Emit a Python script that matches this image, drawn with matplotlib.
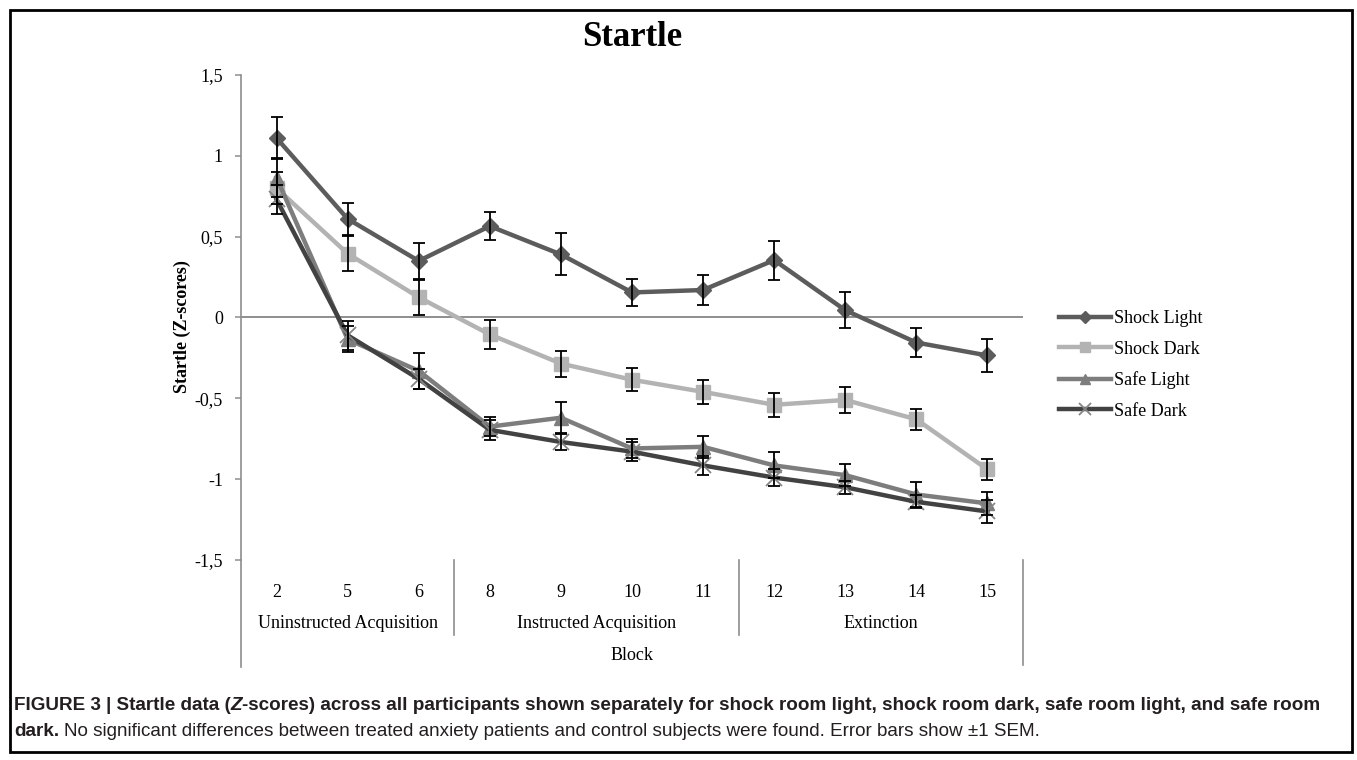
import matplotlib
matplotlib.use("Agg")
import matplotlib.pyplot as plt
from matplotlib.patches import Rectangle
import matplotlib.transforms as mtransforms

# ---------------- data ----------------
blocks = ["2", "5", "6", "8", "9", "10", "11", "12", "13", "14", "15"]
groups = ["Uninstructed Acquisition", "Instructed Acquisition", "Extinction"]
group_sizes = [3, 4, 4]
series_names = ["Shock Light", "Shock Dark", "Safe Light", "Safe Dark"]

shock_light = [1.11, 0.61, 0.35, 0.565, 0.39, 0.155, 0.17, 0.355, 0.045, -0.155, -0.235]
shock_light_sem = [0.13, 0.10, 0.11, 0.085, 0.13, 0.085, 0.095, 0.12, 0.11, 0.09, 0.10]
shock_dark = [0.80, 0.395, 0.125, -0.105, -0.285, -0.385, -0.46, -0.54, -0.51, -0.63, -0.94]
shock_dark_sem = [0.10, 0.11, 0.11, 0.09, 0.08, 0.07, 0.075, 0.073, 0.08, 0.065, 0.067]
safe_light = [0.865, -0.135, -0.33, -0.675, -0.62, -0.81, -0.80, -0.915, -0.975, -1.095, -1.15]
safe_light_sem = [0.12, 0.08, 0.11, 0.06, 0.095, 0.06, 0.07, 0.08, 0.07, 0.075, 0.07]
safe_dark = [0.73, -0.11, -0.38, -0.695, -0.77, -0.83, -0.915, -0.99, -1.05, -1.14, -1.20]
safe_dark_sem = [0.09, 0.09, 0.06, 0.06, 0.05, 0.06, 0.06, 0.05, 0.04, 0.04, 0.07]

yticks = [-1.5, -1.0, -0.5, 0.0, 0.5, 1.0, 1.5]
ytick_labels = ["-1,5", "-1", "-0,5", "0", "0,5", "1", "1,5"]

# ---------------- figure ----------------
W, H = 1357, 760
fig = plt.figure(figsize=(W / 100, H / 100), dpi=100)
serif = ["Liberation Serif", "DejaVu Serif"]
sans = ["Liberation Sans", "DejaVu Sans"]

def fx(px):
    return px / W

def fy(py):
    return 1 - py / H

ax_l, ax_r, ax_t, ax_b = 241, 1023, 75, 560
ax = fig.add_axes([fx(ax_l), fy(ax_b), (ax_r - ax_l) / W, (ax_b - ax_t) / H])
ax.set_xlim(-0.5, len(blocks) - 0.5)
ax.set_ylim(-1.5, 1.5)

axis_gray = "#8e8e8e"
for s in ["top", "right", "bottom"]:
    ax.spines[s].set_visible(False)
ax.spines["left"].set_color(axis_gray)
ax.spines["left"].set_linewidth(1.2)
ax.axhline(0, color=axis_gray, lw=1.4, zorder=1)

styles = [
    dict(color="#5c5c5c", marker="D", ms=8, mfc="#5c5c5c", mec="#5c5c5c"),
    dict(color="#b3b3b3", marker="s", ms=10, mfc="#b3b3b3", mec="#b3b3b3"),
    dict(color="#7d7d7d", marker="^", ms=10, mfc="#7d7d7d", mec="#7d7d7d"),
    dict(color="#424242", marker="x", ms=11, mfc="#858585", mec="#858585", mew=1.3),
]
values = [shock_light, shock_dark, safe_light, safe_dark]
sems = [shock_light_sem, shock_dark_sem, safe_light_sem, safe_dark_sem]
x = list(range(len(blocks)))
handles = []
for i, (name, v, e, st) in enumerate(zip(series_names, values, sems, styles)):
    h, = ax.plot(x, v, lw=3.2, label=name, zorder=3 + i, solid_joinstyle="round", **st)
    handles.append(h)
for i, (v, e) in enumerate(zip(values, sems)):
    ax.errorbar(x, v, yerr=e, fmt="none", ecolor="black", elinewidth=1.3,
                capsize=4.5, capthick=1.3, zorder=8 + i)

ax.set_yticks(yticks)
ax.set_yticklabels(ytick_labels, fontfamily=serif, fontsize=13)
ax.tick_params(axis="y", direction="out", length=4, width=1.1, color=axis_gray, pad=9)
ax.set_xticks(x)
ax.set_xticklabels(blocks, fontfamily=serif, fontsize=13)
ax.tick_params(axis="x", length=0, pad=17)

# category-axis frame lines below the plot
def ay(py):
    return (ax_b - py) / (ax_b - ax_t)

blend = mtransforms.blended_transform_factory(ax.transData, ax.transAxes)
ax.plot([0, 0], [0, ay(667)], transform=ax.transAxes, clip_on=False, color=axis_gray, lw=1.2)
ax.plot([1, 1], [0, ay(665)], transform=ax.transAxes, clip_on=False, color=axis_gray, lw=1.2)
start = 0
centers = []
for k, n in enumerate(group_sizes):
    centers.append(start + (n - 1) / 2)
    if k < len(group_sizes) - 1:
        sep = start + n - 0.5
        ax.plot([sep, sep], [0, ay(635)], transform=blend, clip_on=False, color=axis_gray, lw=1.2)
    start += n
for g, c in zip(groups, centers):
    ax.text(c, ay(623), g, transform=blend, ha="center", va="center",
            fontfamily=serif, fontsize=13)
ax.text(0.5, ay(655), "Block", transform=ax.transAxes, ha="center", va="center",
        fontfamily=serif, fontsize=13)

# y label and title
fig.text(fx(182), fy(327), "Startle (Z-scores)", rotation=90, ha="center", va="center",
         fontfamily=serif, fontsize=13, fontweight="bold")
fig.text(fx(632), fy(38), "Startle", ha="center", va="center",
         fontfamily=serif, fontsize=25, fontweight="bold")

# legend
leg = fig.legend(handles=handles, loc="center left", bbox_to_anchor=(fx(1050), fy(365)),
                 bbox_transform=fig.transFigure, frameon=False, borderpad=0,
                 handlelength=2.9, handletextpad=0.15, labelspacing=0.75, markerscale=0.75,
                 prop=dict(family=serif, size=13))

# border
fig.patches.append(Rectangle((fx(9.5), fy(752)), fx(1352) - fx(9.5), fy(9.5) - fy(752),
                             transform=fig.transFigure, fill=False, edgecolor="black",
                             lw=2.0, zorder=10))

# caption
renderer = fig.canvas.get_renderer()

def place_pieces(pieces, x0, ypx, size):
    arts = []
    xpos = x0
    for txt, weight, style, gap in pieces:
        xpos += gap * size / 12.0
        t = fig.text(fx(xpos), fy(ypx), txt, ha="left", va="center", fontfamily=sans,
                     fontsize=size, fontweight=weight, fontstyle=style, color="#231f20")
        bb = t.get_window_extent(renderer)
        xpos = xpos + bb.width
        arts.append(t)
    return arts, xpos

line1 = [("FIGURE 3 | Startle data (", "bold", "normal", 0),
         ("Z", "bold", "italic", 0),
         ("-scores) across all participants shown separately for shock room light, shock room dark, safe room light, and safe room", "bold", "normal", 0)]
line2 = [("dark.", "bold", "normal", 0),
         ("No significant differences between treated anxiety patients and control subjects were found. Error bars show \u00b11 SEM.", "normal", "normal", 4.5)]

cap_x0, cap_x1 = 14, 1317
size = 12.0
arts, xend = place_pieces(line1, cap_x0, 705, size)
scale = (cap_x1 - cap_x0) / (xend - cap_x0)
for a in arts:
    a.remove()
size = size * scale
place_pieces(line1, cap_x0, 705, size)
place_pieces(line2, cap_x0, 731, size)

fig.savefig("out.png", dpi=100)
